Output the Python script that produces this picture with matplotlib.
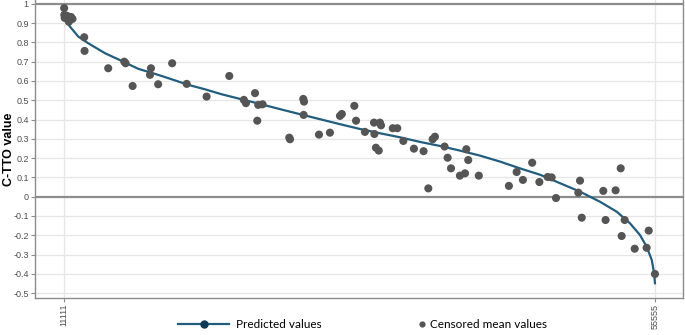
import numpy as np
import matplotlib.pyplot as plt
from matplotlib.lines import Line2D

# predicted values along the ranked health states (1 = 11111, 3125 = 55555)
curve_rank = [1, 6, 33, 77, 129, 218, 306, 394, 482, 570, 658, 746, 835, 940,
              1037, 1143, 1248, 1354, 1460, 1566, 1671, 1777, 1883, 1989, 2094,
              2200, 2306, 2411, 2517, 2623, 2729, 2834, 2923, 2993, 3046, 3081,
              3108, 3121, 3125]
curve_val = [0.95, 0.917, 0.882, 0.83, 0.796, 0.744, 0.704, 0.663, 0.637, 0.609,
             0.58, 0.557, 0.531, 0.505, 0.481, 0.454, 0.428, 0.402, 0.376, 0.351,
             0.329, 0.308, 0.284, 0.263, 0.239, 0.213, 0.182, 0.147, 0.114, 0.07,
             0.026, -0.026, -0.078, -0.138, -0.199, -0.259, -0.328, -0.398, -0.449]

# censored mean values of the valued states
obs_rank = [2, 3, 5, 17, 27, 38, 46, 108, 110, 235, 320, 327, 364, 461, 456, 499,
            573, 650, 755, 875, 952, 963, 1011, 1028, 1051, 1023, 1192, 1196, 1266,
            1270, 1268, 1349, 1407, 1460, 1470, 1536, 1545, 1592, 1640, 1671, 1677,
            1642, 1650, 1665, 1739, 1763, 1795, 1851, 1902, 1950, 1962, 1927, 2013,
            2029, 2047, 2094, 2121, 2128, 2138, 2194, 2353, 2394, 2427, 2476, 2514,
            2558, 2579, 2602, 2729, 2720, 2738, 2852, 2864, 2917, 2944, 2965, 2949,
            3018, 3081, 3092, 3125]
obs_val = [0.978, 0.943, 0.927, 0.938, 0.907, 0.932, 0.922, 0.827, 0.756, 0.666,
           0.70, 0.692, 0.574, 0.666, 0.632, 0.583, 0.692, 0.585, 0.519, 0.626,
           0.502, 0.485, 0.537, 0.476, 0.479, 0.394, 0.306, 0.298, 0.507, 0.493,
           0.424, 0.322, 0.332, 0.419, 0.429, 0.471, 0.394, 0.336, 0.384, 0.384,
           0.37, 0.325, 0.254, 0.239, 0.355, 0.355, 0.289, 0.249, 0.236, 0.298,
           0.311, 0.043, 0.26, 0.202, 0.147, 0.109, 0.121, 0.246, 0.19, 0.109,
           0.056, 0.128, 0.087, 0.176, 0.076, 0.102, 0.10, -0.007, 0.083, 0.021,
           -0.109, 0.030, -0.121, 0.033, 0.147, -0.121, -0.204, -0.27, -0.265,
           -0.176, -0.401]

xtick_pos = [1, 3125]
xtick_lab = ['11111', '55555']
yticks = [round(v, 1) for v in np.arange(-0.5, 1.01, 0.1)]

line_col = '#235d7e'
dot_col = '#555555'

fig = plt.figure(figsize=(6.85, 3.35), dpi=100)
ax = fig.add_axes([0.0511, 0.1113, 0.9459, 0.8887])

ax.set_xlim(-152, 3273)
ax.set_ylim(-0.524, 1.02)

for v in yticks:
    if v in (0.0, 1.0):
        ax.axhline(v, color='#8c8c8c', lw=1.6, zorder=1)
    else:
        ax.axhline(v, color='#e6e6e6', lw=0.9, zorder=0)
for p in xtick_pos:
    ax.axvline(p, color='#e6e6e6', lw=0.9, zorder=0)

ax.plot(curve_rank, curve_val, color=line_col, lw=1.6, zorder=2)
ax.scatter(obs_rank, obs_val, s=34, color=dot_col, edgecolors='none', zorder=3)

ax.set_yticks(yticks)
ax.set_yticklabels(['0' if v == 0 else ('1' if v == 1 else f'{v:g}') for v in yticks],
                   fontsize=6.5, color='#4d4d4d', family='Liberation Sans')
ax.set_xticks(xtick_pos)
ax.set_xticklabels(xtick_lab, rotation=90, fontsize=6.5, color='#4d4d4d',
                   family='Liberation Sans')
ax.tick_params(length=3, color='#8c8c8c', width=0.8, pad=1.5)

for s in ['left', 'bottom', 'right']:
    ax.spines[s].set_color('#8c8c8c')
    ax.spines[s].set_linewidth(1.0)
ax.spines['top'].set_visible(False)

ax.set_ylabel('C-TTO value', fontsize=9, fontweight='bold', family='Liberation Sans',
              va='center')
ax.yaxis.set_label_coords(-0.04, 0.5)

h1 = Line2D([], [], color=line_col, lw=1.6, marker='o', markersize=5,
            markerfacecolor='#0f3a57', markeredgecolor='#0f3a57')
h2 = Line2D([], [], color=dot_col, lw=0, marker='o', markersize=4.5,
            markeredgecolor='none')
fig.legend([h1], ['Predicted values'], loc='center', bbox_to_anchor=(0.365, 0.03),
           frameon=False, handlelength=4.3, handletextpad=0.6,
           prop={'family': 'Lato', 'size': 8.5})
fig.legend([h2], ['Censored mean values'], loc='center', bbox_to_anchor=(0.705, 0.03),
           frameon=False, handlelength=0.6, handletextpad=0.4,
           prop={'family': 'Lato', 'size': 8.5})

fig.savefig('out.png', dpi=100)
